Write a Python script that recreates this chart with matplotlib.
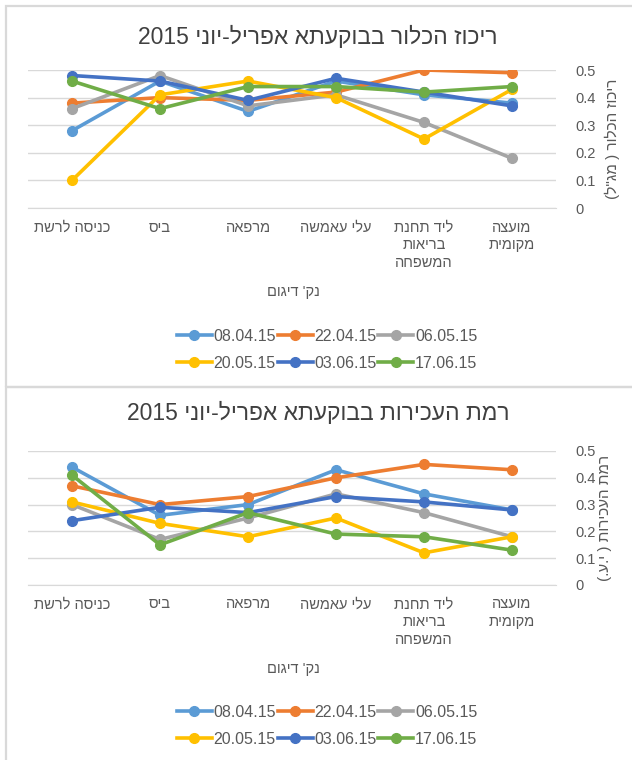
import re
import matplotlib
matplotlib.use("Agg")
import matplotlib.pyplot as plt
from matplotlib.lines import Line2D
from matplotlib.patches import Rectangle

plt.rcParams["font.family"] = ["Liberation Sans", "DejaVu Sans"]

# ── Data (categories listed right-to-left, as in the RTL Excel chart) ──────
categories = ["מועצה\nמקומית", "ליד תחנת\nבריאות\nהמשפחה", "עלי עאמשה",
              "מרפאה", "ביס", "כניסה לרשת"]
dates = ["08.04.15", "22.04.15", "06.05.15", "20.05.15", "03.06.15", "17.06.15"]
colors = ["#5B9BD5", "#ED7D31", "#A5A5A5", "#FFC000", "#4472C4", "#70AD47"]

chlorine = {
    "08.04.15": [0.38, 0.41, 0.46, 0.35, 0.46, 0.28],
    "22.04.15": [0.49, 0.50, 0.42, 0.39, 0.40, 0.38],
    "06.05.15": [0.18, 0.31, 0.41, 0.37, 0.48, 0.36],
    "20.05.15": [0.43, 0.25, 0.40, 0.46, 0.41, 0.10],
    "03.06.15": [0.37, 0.42, 0.47, 0.39, 0.46, 0.48],
    "17.06.15": [0.44, 0.42, 0.44, 0.44, 0.36, 0.46],
}
turbidity = {
    "08.04.15": [0.28, 0.34, 0.43, 0.30, 0.26, 0.44],
    "22.04.15": [0.43, 0.45, 0.40, 0.33, 0.30, 0.37],
    "06.05.15": [0.18, 0.27, 0.34, 0.25, 0.17, 0.30],
    "20.05.15": [0.18, 0.12, 0.25, 0.18, 0.23, 0.31],
    "03.06.15": [0.28, 0.31, 0.33, 0.27, 0.29, 0.24],
    "17.06.15": [0.13, 0.18, 0.19, 0.27, 0.15, 0.41],
}
yticks = [0, 0.1, 0.2, 0.3, 0.4, 0.5]
ytick_labels = ["0", "0.1", "0.2", "0.3", "0.4", "0.5"]

title1 = "ריכוז הכלור בבוקעתא אפריל-יוני 2015"
title2 = "רמת העכירות בבוקעתא אפריל-יוני 2015"
ylabel1 = "ריכוז הכלור ( מג\"ל)"
ylabel2 = "רמת העכירות ( י.ע.)"
xlabel = "נק' דיגום"

MIRROR = {"(": ")", ")": "("}


def rtl(s):
    """Turn a logical-order Hebrew line into visual order (matplotlib has no bidi)."""
    out = []
    for line in s.split("\n"):
        runs = re.findall(r"[0-9]+(?:[.,][0-9]+)*|[^0-9]+", line)
        vis = []
        for r in reversed(runs):
            if r[0].isdigit():
                vis.append(r)
            else:
                vis.append("".join(MIRROR.get(c, c) for c in reversed(r)))
        out.append("".join(vis))
    return "\n".join(out)


TXT = "#595959"
W, H = 632, 760
fig = plt.figure(figsize=(W / 100, H / 100), dpi=100)

# chart-area borders
for (x0, y0, x1, y1) in [(6, 6, 640, 387), (6, 387, 640, 770)]:
    fig.patches.append(Rectangle((x0 / W, 1 - y1 / H), (x1 - x0) / W, (y1 - y0) / H,
                                 transform=fig.transFigure, fill=False,
                                 edgecolor="#D9D9D9", lw=1.6))


def draw_chart(top, bottom, series, title, ylabel, title_y, legend_y, ylab_x):
    ax = fig.add_axes([28 / W, 1 - bottom / H, (556 - 28) / W, (bottom - top) / H])
    xs = list(range(len(categories)))
    for d, c in zip(dates, colors):
        ax.plot(xs, series[d], color=c, lw=2.6, marker="o", ms=7,
                solid_capstyle="round", label=d, zorder=3)
    ax.set_xlim(len(categories) - 0.5, -0.5)
    ax.set_ylim(0, 0.5)
    ax.set_yticks(yticks)
    ax.set_yticklabels(ytick_labels)
    ax.yaxis.tick_right()
    ax.grid(axis="y", color="#D9D9D9", lw=1)
    ax.set_axisbelow(True)
    for sp in ax.spines.values():
        sp.set_visible(False)
    ax.spines["bottom"].set_visible(True)
    ax.spines["bottom"].set_color("#D9D9D9")
    ax.tick_params(axis="y", length=0, pad=14, labelsize=10.5, labelcolor=TXT)
    ax.tick_params(axis="x", length=0, pad=9, labelsize=10.5, labelcolor=TXT)
    ax.set_xticks(xs)
    ax.set_xticklabels([rtl(c) for c in categories], linespacing=1.35, va="top")

    fig.text(318 / W, 1 - title_y / H, rtl(title), ha="center", va="center",
             fontsize=16.5, color="#404040")
    fig.text(ylab_x / W, 1 - (top + bottom) / 2 / H, rtl(ylabel), rotation=90,
             ha="center", va="center", fontsize=11, color=TXT)
    fig.text(293 / W, 1 - (bottom + 84) / H, rtl(xlabel), ha="center", va="center",
             fontsize=10.5, color=TXT)

    handles = [Line2D([], [], color=c, lw=2.6, marker="o", ms=7) for c in colors]
    order = [0, 3, 1, 4, 2, 5]
    fig.legend([handles[i] for i in order], [dates[i] for i in order],
               loc="center", bbox_to_anchor=(327 / W, 1 - legend_y / H), ncol=3,
               frameon=False, fontsize=11.5, handlelength=2.2, handletextpad=0.1,
               columnspacing=0.1, labelspacing=0.75, labelcolor=TXT)
    return ax


draw_chart(70, 208, chlorine, title1, ylabel1, 37, 350, 612)
draw_chart(451, 585, turbidity, title2, ylabel2, 413, 726, 605)

fig.savefig("out.png", dpi=100)
